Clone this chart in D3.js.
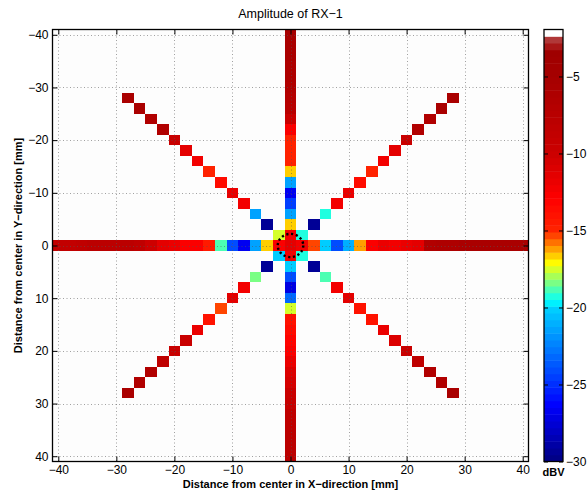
<!DOCTYPE html>
<html><head><meta charset="utf-8">
<script src="https://cdn.jsdelivr.net/npm/d3@7"></script>
<style>
html,body{margin:0;padding:0;background:#fff;}
svg{display:block;font-family:"Liberation Sans",Arial,Helvetica,sans-serif;}
</style></head>
<body>
<script>
// ---------- data (dBV) ----------
const gridPos = d3.range(-40, 41, 2);           // cell centres [mm]
const axisTicks = d3.range(-40, 41, 10);
const cbarTicks = [-5, -10, -15, -20, -25, -30];
const cMin = -30, cMax = -1.95;
// row y = 0, x = -40..40
const rowY0 = [-8.8,-8.8,-8.5,-8.0,-8.0,-8.0,-8.0,-8.5,-10.0,-11.5,-12.0,-12.5,-12.9,-14.5,-18.7,-24.1,-26.8,-21.3,-16.5,-12.5,
               -11.5,
               -12.2,-15.1,-20.0,-24.3,-21.0,-16.4,-12.9,-12.0,-12.3,-11.6,-11.2,-6.6,-6.3,-6.0,-5.8,-5.6,-5.5,-5.5,-5.5,-5.5];
// column x = 0, y = -40..40
const colX0 = [-5.2,-5.5,-5.8,-6.0,-6.3,-6.6,-6.8,-7.4,-9.8,-12.9,-14.9,-14.9,-15.0,-16.5,-21.6,-26.8,-24.5,-21.3,-16.5,-12.3,
               -11.5,
               -12.2,-20.0,-24.1,-27.0,-23.0,-17.3,-13.9,-13.5,-13.0,-12.9,-11.6,-10.8,-10.6,-9.8,-9.2,-8.5,-8.2,-8.0,-7.8,-7.8];
// diagonals, k = 2..28
const diagK  = d3.range(2, 29, 2);
const diagNW = [-17.7,-29.5,-21.3,-12.2,-11.6,-13.4,-14.8,-12.2,-11.2,-9.8,-6.6,-6.5,-5.5,-5.5]; // (-k,-k)
const diagNE = [-19.2,-29.5,-19.2,-12.2,-11.6,-13.4,-14.8,-12.2,-11.2,-9.8,-6.6,-6.5,-5.5,-5.5]; // ( k,-k)
const diagSW = [-20.0,-29.5,-18.2,-12.2,-11.2,-15.1,-13.9,-11.6,-9.8,-9.8,-8.5,-6.6,-6.6,-5.8];  // (-k, k)
const diagSE = [-19.2,-29.5,-18.7,-12.2,-11.2,-13.9,-13.9,-11.6,-11.0,-9.8,-8.5,-6.6,-6.6,-5.8]; // ( k, k)
const circleR = 2.2; // mm

// ---------- build cells ----------
const cells = [];
gridPos.forEach((x, i) => cells.push({x: x, y: 0, v: rowY0[i]}));
gridPos.forEach((y, i) => { if (y !== 0) cells.push({x: 0, y: y, v: colX0[i]}); });
diagK.forEach((k, i) => {
  cells.push({x: -k, y: -k, v: diagNW[i]});
  cells.push({x:  k, y: -k, v: diagNE[i]});
  cells.push({x: -k, y:  k, v: diagSW[i]});
  cells.push({x:  k, y:  k, v: diagSE[i]});
});

// ---------- colour map ----------
const tScale = d3.scaleLinear().domain([-30,-25,-20,-15,-10,-5,-1.95]).range([0,0.17,0.33,0.84,0.925,0.963,0.975]).clamp(true);
function jet(t){
  const c = u => Math.max(0, Math.min(1, u));
  return d3.rgb(255*c(1.5-Math.abs(4*t-3)), 255*c(1.5-Math.abs(4*t-2)), 255*c(1.5-Math.abs(4*t-1))).formatHex();
}
const nLev = 64;
const levels = d3.range(nLev).map(i => cMin + (i + 0.5) * (cMax - cMin) / nLev);
const cmap = levels.map(v => jet(tScale(v)));
cmap[nLev-1] = "#ffffff"; cmap[nLev-2] = "#b03838"; cmap[nLev-3] = "#a81616";
const levelOf = d3.scaleQuantize().domain([cMin, cMax]).range(d3.range(nLev));
const color = v => cmap[levelOf(Math.max(cMin, Math.min(cMax - 1e-6, v)))];

// ---------- layout ----------
const W = 587, H = 494;
const svg = d3.select("body").append("svg").attr("width", W).attr("height", H);
const x = d3.scaleLinear().domain([-41, 41]).range([52.5, 528.5]);
const y = d3.scaleLinear().domain([-41, 41]).range([29.5, 461.5]);

svg.append("rect").attr("x", x(-41)).attr("y", y(-41)).attr("width", x(41)-x(-41)).attr("height", y(41)-y(-41)).attr("fill", "#fdfdfd");

const plot = svg.append("g");
plot.selectAll("rect.cell").data(cells).join("rect").attr("class","cell")
  .attr("x", d => x(d.x - 1)).attr("y", d => y(d.y - 1))
  .attr("width", d => x(d.x + 1) - x(d.x - 1)).attr("height", d => y(d.y + 1) - y(d.y - 1))
  .attr("fill", d => color(d.v)).attr("shape-rendering","crispEdges");

// grid (dotted, on top)
const grid = svg.append("g").attr("stroke", "#555").attr("stroke-opacity", 0.55).attr("stroke-width", 1).attr("stroke-dasharray", "1,2.5");
grid.selectAll("line.gx").data(axisTicks).join("line").attr("class","gx")
  .attr("x1", d => Math.round(x(d))+0.5).attr("x2", d => Math.round(x(d))+0.5).attr("y1", y(-41)).attr("y2", y(41));
grid.selectAll("line.gy").data(axisTicks).join("line").attr("class","gy")
  .attr("y1", d => Math.round(y(d))+0.5).attr("y2", d => Math.round(y(d))+0.5).attr("x1", x(-41)).attr("x2", x(41));

// centre circle
svg.append("ellipse").attr("cx", x(0)).attr("cy", y(0)).attr("rx", x(circleR)-x(0)).attr("ry", y(circleR)-y(0))
  .attr("fill", "none").attr("stroke", "#000").attr("stroke-width", 2.4).attr("stroke-dasharray", "2.2,2.6");

// axes
const tickFont = g => g.selectAll("text").attr("font-size", 12).attr("fill", "#000").attr("font-family", "Liberation Sans, Arial, sans-serif");
const axStyle = g => { g.select(".domain").remove(); g.selectAll(".tick line").attr("stroke", "#000"); };
svg.append("g").attr("transform", `translate(0,${y(41)})`)
  .call(d3.axisBottom(x).tickValues(axisTicks).tickSizeInner(-5).tickSizeOuter(0).tickPadding(4)).call(axStyle).call(tickFont);
svg.append("g").attr("transform", `translate(0,${y(-41)})`)
  .call(d3.axisTop(x).tickValues(axisTicks).tickSizeInner(-5).tickSizeOuter(0).tickFormat("")).call(axStyle);
svg.append("g").attr("transform", `translate(${x(-41)},0)`)
  .call(d3.axisLeft(y).tickValues(axisTicks).tickSizeInner(-5).tickSizeOuter(0).tickPadding(4)).call(axStyle).call(tickFont);
svg.append("g").attr("transform", `translate(${x(41)},0)`)
  .call(d3.axisRight(y).tickValues(axisTicks).tickSizeInner(-5).tickSizeOuter(0).tickFormat("")).call(axStyle);
svg.append("rect").attr("x", x(-41)).attr("y", y(-41)).attr("width", x(41)-x(-41)).attr("height", y(41)-y(-41))
  .attr("fill", "none").attr("stroke", "#000").attr("stroke-width", 1.3);

// title & labels
svg.append("text").attr("x", (x(-41)+x(41))/2).attr("y", 18).attr("text-anchor", "middle")
  .attr("font-size", 12.5).text("Amplitude of RX\u22121");
svg.append("text").attr("x", (x(-41)+x(41))/2).attr("y", 488).attr("text-anchor", "middle")
  .attr("font-size", 11).attr("font-weight", "bold").text("Distance from center in X\u2212direction [mm]");
svg.append("text").attr("transform", `translate(22,${(y(-41)+y(41))/2}) rotate(-90)`).attr("text-anchor", "middle")
  .attr("font-size", 11).attr("font-weight", "bold").text("Distance from center in Y\u2212direction [mm]");

// colourbar
const cbX = 544, cbW = 19;
const cy = d3.scaleLinear().domain([cMin, cMax]).range([461.5, 29.5]);
const step = (cMax - cMin) / nLev;
svg.append("g").selectAll("rect").data(levels).join("rect")
  .attr("x", cbX).attr("width", cbW)
  .attr("y", d => cy(d + step/2)).attr("height", d => cy(d - step/2) - cy(d + step/2) + 0.5)
  .attr("fill", (d, i) => cmap[i]);
svg.append("g").attr("transform", `translate(${cbX+cbW},0)`)
  .call(d3.axisRight(cy).tickValues(cbarTicks).tickSizeInner(-4).tickSizeOuter(0).tickPadding(3)).call(axStyle).call(tickFont);
svg.append("g").attr("transform", `translate(${cbX},0)`)
  .call(d3.axisLeft(cy).tickValues(cbarTicks).tickSizeInner(-4).tickSizeOuter(0).tickFormat("")).call(axStyle);
svg.append("rect").attr("x", cbX).attr("y", cy(cMax)).attr("width", cbW).attr("height", cy(cMin)-cy(cMax))
  .attr("fill", "none").attr("stroke", "#000").attr("stroke-width", 1.3);
svg.append("text").attr("x", cbX + cbW/2).attr("y", 476).attr("text-anchor", "middle")
  .attr("font-size", 11).attr("font-weight", "bold").text("dBV");
</script>
</body></html>
